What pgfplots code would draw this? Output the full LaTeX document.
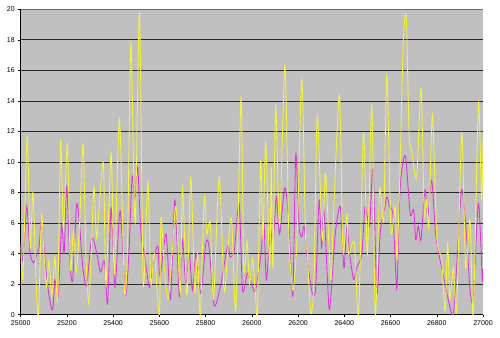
\documentclass[border=0pt]{standalone}
\usepackage{pgfplots}
\pgfplotsset{compat=1.18}
\usepackage{pgfplotstable}
\usepackage{fontspec}
\setmainfont{Liberation Sans}
\definecolor{bgray}{HTML}{C0C0C0}
\definecolor{yel}{HTML}{F4F43A}
\definecolor{mag}{HTML}{DD33DD}
\pgfplotstableread{
x y
25000 4.5
25010 2.5
25028 11.7
25041 4.4
25053 8.0
25067 2.0
25077 0.0
25090 6.5
25100 4.2
25112 1.8
25122 3.5
25135 1.2
25148 3.8
25160 1.0
25173 11.4
25185 5.5
25202 11.2
25215 3.0
25228 5.5
25240 2.8
25255 6.0
25270 11.2
25282 4.0
25294 0.7
25305 4.0
25317 8.4
25328 5.0
25340 7.1
25358 9.9
25369 2.0
25391 10.6
25405 2.7
25427 12.8
25449 1.6
25462 4.5
25477 17.8
25495 6.0
25514 19.8
25530 2.0
25550 8.7
25563 2.0
25578 4.0
25600 0.0
25607 6.4
25622 3.0
25638 1.0
25655 4.0
25672 7.1
25690 1.4
25700 8.4
25719 1.3
25736 9.0
25753 1.5
25765 4.0
25777 0.0
25794 7.7
25805 5.3
25820 6.0
25834 1.0
25859 9.0
25880 1.6
25895 4.0
25912 6.3
25931 0.3
25953 14.2
25965 3.0
25979 4.8
25990 2.0
26003 3.7
26015 1.5
26024 0.1
26038 10.0
26048 5.0
26060 11.3
26077 3.1
26084 9.7
26091 3.1
26103 13.7
26120 5.8
26143 16.3
26160 5.3
26178 1.6
26196 5.3
26216 15.4
26232 5.3
26240 4.0
26255 0.1
26269 2.3
26283 13.0
26305 4.9
26319 9.3
26341 2.3
26353 6.4
26379 14.4
26394 4.2
26411 6.6
26418 4.0
26443 4.7
26462 0.0
26483 11.9
26500 4.0
26519 13.7
26534 0.0
26553 8.2
26570 6.2
26584 15.7
26602 5.5
26620 7.1
26628 3.6
26642 10.1
26655 17.8
26668 19.5
26680 12.0
26691 10.8
26713 9.0
26732 14.8
26746 6.6
26756 7.5
26766 5.8
26781 13.1
26800 5.1
26821 3.6
26836 0.2
26847 4.7
26857 1.0
26872 3.1
26886 0.3
26908 11.9
26925 3.1
26944 6.2
26958 0.0
26980 13.8
26994 7.5
27000 11.4
}\yellowdata
\pgfplotstableread{
x y
25000 4.7
25010 3.6
25026 7.1
25040 4.1
25055 3.4
25069 3.9
25080 4.5
25091 6.4
25105 3.6
25120 1.5
25138 0.3
25148 2.3
25162 1.1
25177 5.9
25188 4.0
25199 8.4
25213 3.4
25225 2.3
25242 7.2
25255 5.8
25268 3.2
25285 1.9
25307 5.0
25328 4.1
25345 2.8
25362 3.5
25376 0.7
25391 7.0
25408 1.8
25430 6.8
25453 1.3
25468 4.0
25482 9.0
25494 7.5
25506 9.7
25520 5.3
25535 4.0
25557 1.8
25575 3.5
25593 4.5
25603 2.5
25629 5.3
25648 1.0
25667 7.5
25686 1.2
25700 4.9
25714 2.0
25729 4.0
25743 1.6
25758 4.0
25779 1.4
25801 4.7
25815 4.4
25837 0.6
25866 2.0
25895 4.5
25906 3.8
25924 4.2
25945 7.3
25960 1.6
25981 2.7
26003 1.8
26016 1.6
26038 3.8
26052 6.0
26063 2.3
26081 5.6
26091 4.4
26106 7.7
26120 5.3
26142 8.3
26158 6.6
26168 3.6
26178 1.4
26190 10.5
26204 5.8
26216 5.1
26226 5.8
26240 3.6
26262 1.4
26276 1.8
26291 7.5
26302 4.4
26312 6.9
26327 2.3
26337 0.4
26361 5.3
26382 7.1
26394 4.0
26400 3.1
26411 5.8
26423 4.0
26440 2.3
26454 3.1
26476 4.0
26490 7.1
26509 5.8
26524 9.5
26541 1.4
26555 5.3
26570 6.6
26584 7.7
26596 7.1
26610 6.6
26620 3.6
26628 1.8
26642 8.4
26664 10.4
26685 6.6
26700 6.9
26709 4.9
26720 5.8
26732 4.9
26749 8.2
26761 6.4
26778 8.8
26795 5.3
26814 3.6
26836 2.0
26857 0.5
26872 0.0
26886 3.1
26908 8.2
26930 4.9
26944 1.6
26958 1.0
26980 7.3
26997 2.3
27000 3.0
}\magentadata
\begin{document}
\begin{tikzpicture}
\begin{axis}[
  scale only axis,
  width=462.3pt, height=305.4pt,
  xmin=25000, xmax=27000, ymin=0, ymax=20,
  xtick={25000,25200,...,27000},
  ytick={0,2,...,18},
  extra y ticks={20},
  extra y tick style={major grid style={gray!85!black, line width=0.5pt}},
  axis background/.style={fill=bgray},
  ymajorgrids,
  major grid style={black!85, line width=0.7pt},
  axis x line*=bottom, axis y line*=left,
  axis line style={black, line width=0.6pt},
  tick align=outside, major tick length=2.5pt,
  tick style={black, line width=0.5pt},
  scaled x ticks=false,
  xticklabel style={/pgf/number format/1000 sep={}},
  tick label style={font=\fontsize{7}{8}\selectfont},
  /pgf/number format/assume math mode=true,
  clip=true,
]
\addplot[mag, line width=0.85pt, smooth, tension=0.45] table[x=x,y=y] {\magentadata};
\addplot[yel, line width=0.85pt, smooth, tension=0.45] table[x=x,y=y] {\yellowdata};
\end{axis}
\pgfresetboundingbox
\path (-20.7pt,-23pt) rectangle (479.3pt,314.7pt);
\end{tikzpicture}
\end{document}
